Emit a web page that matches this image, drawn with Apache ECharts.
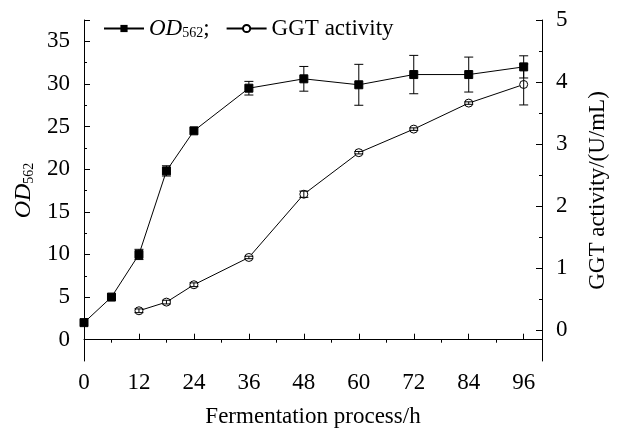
<!DOCTYPE html>
<html>
<head>
<meta charset="utf-8">
<script src="https://cdn.jsdelivr.net/npm/echarts@6/dist/echarts.min.js"></script>
<style>
  html, body { margin: 0; padding: 0; background: #fff; }
  #chart { width: 617px; height: 433px; }
</style>
</head>
<body>
<div id="chart"></div>
<script>
// fermentation time (h)
var hours = [0, 6, 12, 18, 24, 36, 48, 60, 72, 84, 96];
var od = [2.0, 5.0, 10.0, 19.8, 24.5, 29.5, 30.6, 29.9, 31.1, 31.1, 32.0];
var odErr = [0, 0, 0.6, 0.6, 0, 0.8, 1.45, 2.4, 2.25, 2.05, 1.3];

var ggtHours = [12, 18, 24, 36, 48, 60, 72, 84, 96];
var ggt = [0.31, 0.45, 0.73, 1.17, 2.19, 2.86, 3.24, 3.66, 3.96];
var ggtErr = [0.03, 0.03, 0.03, 0.02, 0.05, 0.02, 0.02, 0.02, 0.33];

var xLabels = [0, 12, 24, 36, 48, 60, 72, 84, 96];
var xMinor = [6, 18, 30, 42, 54, 66, 78, 90];
var leftLabels = [0, 5, 10, 15, 20, 25, 30, 35];
var leftMinor = [2.5, 7.5, 12.5, 17.5, 22.5, 27.5, 32.5];
var rightLabels = [0, 1, 2, 3, 4, 5];
var rightMinor = [0.5, 1.5, 2.5, 3.5, 4.5];

var font = 'Liberation Serif';

function pairs(xs, ys) {
  return xs.map(function (x, i) { return [x, ys[i]]; });
}
function errData(xs, ys, es) {
  return xs.map(function (x, i) { return [x, ys[i] - es[i], ys[i] + es[i]]; });
}

// error bars with caps
function renderErr(params, api) {
  var lo = api.coord([api.value(0), api.value(1)]);
  var hi = api.coord([api.value(0), api.value(2)]);
  var w = 4.5;
  var st = { stroke: '#000', lineWidth: 1 };
  return {
    type: 'group',
    children: [
      { type: 'line', shape: { x1: lo[0], y1: lo[1], x2: hi[0], y2: hi[1] }, style: st },
      { type: 'line', shape: { x1: lo[0] - w, y1: lo[1], x2: lo[0] + w, y2: lo[1] }, style: st },
      { type: 'line', shape: { x1: hi[0] - w, y1: hi[1], x2: hi[0] + w, y2: hi[1] }, style: st }
    ]
  };
}

function tickAxis(base, vals, len, showLine) {
  return Object.assign({
    type: 'value',
    axisLine: { show: showLine, lineStyle: { color: '#000', width: 1 } },
    axisTick: { show: true, inside: true, length: len, customValues: vals, lineStyle: { color: '#000' } },
    splitLine: { show: false },
    axisLabel: { show: false }
  }, base);
}

var labelStyle = { color: '#000', fontFamily: font, fontSize: 23 };

var chart = echarts.init(document.getElementById('chart'));
var option = {
  animation: false,
  grid: { left: 84, right: 66, top: 20, bottom: 69 },
  legend: {
    left: 98,
    top: 12,
    itemWidth: 40,
    itemHeight: 9,
    itemGap: 16,
    data: ['OD562', 'GGT activity'],
    textStyle: {
      color: '#000', fontFamily: font, fontSize: 23,
      rich: {
        i: { fontFamily: font, fontSize: 23, fontStyle: 'italic', color: '#000' },
        s: { fontFamily: font, fontSize: 14, color: '#000', verticalAlign: 'bottom', padding: [10, 0, 0, 0] },
        n: { fontFamily: font, fontSize: 23, color: '#000' }
      }
    },
    formatter: function (name) {
      if (name === 'OD562') return '{i|OD}{s|562}{n|;}';
      return name;
    }
  },
  xAxis: [
    tickAxis({
      min: 0, max: 100,
      name: 'Fermentation process/h',
      nameLocation: 'middle',
      nameGap: 44,
      nameTextStyle: labelStyle,
      axisLabel: Object.assign({ show: true, margin: 10, customValues: xLabels }, labelStyle)
    }, xLabels, 6, true),
    tickAxis({ min: 0, max: 100 }, xMinor, 3, false)
  ],
  yAxis: [
    tickAxis({
      min: -2.5, max: 37.5,
      position: 'left',
      name: '{i|OD}{s|562}',
      nameLocation: 'middle',
      nameGap: 48,
      nameTextStyle: {
        rich: {
          i: { fontFamily: font, fontSize: 24, fontStyle: 'italic', color: '#000' },
          s: { fontFamily: font, fontSize: 14, color: '#000', verticalAlign: 'bottom', padding: [10, 0, 0, 0] }
        }
      },
      axisLabel: Object.assign({ show: true, margin: 14, customValues: leftLabels }, labelStyle)
    }, leftLabels.concat([37.5]), 6, true),
    tickAxis({ min: -2.5, max: 37.5, position: 'left' }, leftMinor, 3, false),
    tickAxis({
      min: -0.5, max: 5,
      position: 'right',
      name: 'GGT activity/(U/mL)',
      nameLocation: 'middle',
      nameGap: 44,
      nameTextStyle: labelStyle,
      axisLabel: Object.assign({ show: true, margin: 14, customValues: rightLabels }, labelStyle)
    }, rightLabels, 6, true),
    tickAxis({ min: -0.5, max: 5, position: 'right' }, rightMinor, 3, false)
  ],
  series: [
    {
      name: 'OD562',
      type: 'line',
      xAxisIndex: 0,
      yAxisIndex: 0,
      data: pairs(hours, od),
      symbol: 'rect',
      symbolSize: 8,
      lineStyle: { color: '#000', width: 1 },
      itemStyle: { color: '#000', borderColor: '#000' },
      z: 3
    },
    {
      name: 'GGT activity',
      type: 'line',
      xAxisIndex: 0,
      yAxisIndex: 2,
      data: pairs(ggtHours, ggt),
      symbol: 'circle',
      symbolSize: 8,
      lineStyle: { color: '#000', width: 1 },
      itemStyle: { color: '#fff', borderColor: '#000', borderWidth: 1 },
      z: 3
    },
    {
      type: 'custom',
      xAxisIndex: 0,
      yAxisIndex: 0,
      renderItem: renderErr,
      data: errData(hours, od, odErr).filter(function (d) { return d[2] > d[1]; }),
      z: 2
    },
    {
      type: 'custom',
      xAxisIndex: 0,
      yAxisIndex: 2,
      renderItem: renderErr,
      data: errData(ggtHours, ggt, ggtErr),
      z: 4
    }
  ]
};
chart.setOption(option);
</script>
</body>
</html>
